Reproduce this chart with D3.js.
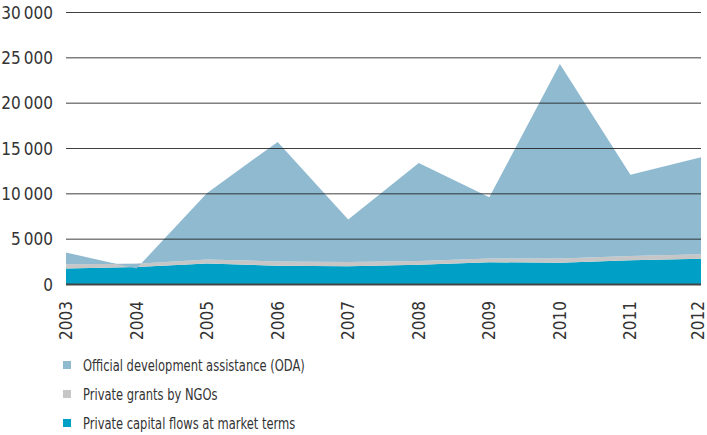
<!DOCTYPE html>
<html>
<head>
<meta charset="utf-8">
<script src="https://cdn.jsdelivr.net/npm/d3@7"></script>
<style>
  html, body { margin: 0; padding: 0; background: #fff; }
  svg text { font-family: "Liberation Sans Narrow", "DejaVu Sans Condensed", "Arial Narrow", sans-serif; fill: #333; }
</style>
</head>
<body>
<svg id="chart" width="707" height="435"></svg>
<script>
// Flows by year (USD million)
const years = ["2003", "2004", "2005", "2006", "2007", "2008", "2009", "2010", "2011", "2012"];
const privateCapital = [1770, 1940, 2320, 2060, 2020, 2170, 2460, 2390, 2680, 2830];
const privateGrants  = [470, 350, 450, 480, 450, 430, 420, 470, 450, 520];
const oda            = [1290, -520, 7330, 13180, 4710, 10800, 6730, 21470, 8980, 10680];
const yTicks = [0, 5000, 10000, 15000, 20000, 25000, 30000];

const seriesNames = [
  "Private capital flows at market terms",
  "Private grants by NGOs",
  "Official development assistance (ODA)"
];
const seriesColors = ["#00a0c6", "#c6c6c6", "#8fbad0"];
const legendOrder = [2, 1, 0];

const rows = years.map((y, i) => ({
  year: y,
  [seriesNames[0]]: privateCapital[i],
  [seriesNames[1]]: privateGrants[i],
  [seriesNames[2]]: oda[i]
}));

const svg = d3.select("#chart");
const x = d3.scalePoint().domain(years).range([66, 701]);
const y = d3.scaleLinear().domain([0, 30000]).range([284.5, 12.5]);

const stacked = d3.stack().keys(seriesNames).offset(d3.stackOffsetNone)(rows);

const area = d3.area()
  .x(d => x(d.data.year))
  .y0(d => y(d[0]))
  .y1(d => y(d[1]));

svg.append("g").selectAll("path")
  .data(stacked)
  .join("path")
  .attr("d", area)
  .attr("fill", (d, i) => seriesColors[i]);

// thousands separated by a thin space
const locale = d3.formatLocale({ decimal: ",", thousands: "\u2009", grouping: [3], currency: ["", ""] });
const fmt = locale.format(",d");

// gridlines
svg.append("g").selectAll("line")
  .data(yTicks.filter(t => t > 0))
  .join("line")
  .attr("x1", 66).attr("x2", 701)
  .attr("y1", d => y(d)).attr("y2", d => y(d))
  .attr("stroke", "#1e1e1e").attr("stroke-opacity", 0.85).attr("stroke-width", 1);

// baseline
svg.append("line")
  .attr("x1", 66).attr("x2", 701)
  .attr("y1", y(0)).attr("y2", y(0))
  .attr("stroke", "#444").attr("stroke-width", 2);

// y tick labels
svg.append("g").selectAll("text")
  .data(yTicks)
  .join("text")
  .attr("x", 53)
  .attr("y", d => y(d))
  .attr("dy", "0.36em")
  .attr("text-anchor", "end")
  .attr("font-size", 17)
  .text(d => fmt(d));

// x tick labels, rotated
svg.append("g").selectAll("text")
  .data(years)
  .join("text")
  .attr("transform", d => `translate(${Math.min(x(d), 698)},301) rotate(-90)`)
  .attr("dy", "0.35em")
  .attr("text-anchor", "end")
  .attr("font-size", 17)
  .text(d => d);

// legend
const legend = svg.append("g").selectAll("g")
  .data(legendOrder)
  .join("g")
  .attr("transform", (d, i) => `translate(63,${365 + i * 29})`);
legend.append("rect")
  .attr("x", 0).attr("y", -4).attr("width", 8).attr("height", 8)
  .attr("fill", d => seriesColors[d]);
legend.append("text")
  .attr("transform", "translate(20,0) scale(0.8,1)")
  .attr("dy", "0.36em")
  .attr("font-size", 16)
  .text(d => seriesNames[d]);
</script>
</body>
</html>
